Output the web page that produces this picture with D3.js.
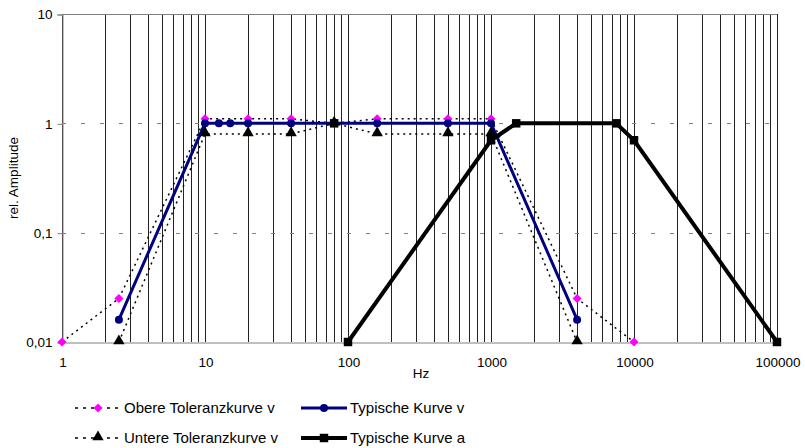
<!DOCTYPE html>
<html>
<head>
<meta charset="utf-8">
<script src="https://cdn.jsdelivr.net/npm/d3@7"></script>
<style>
  html, body { margin: 0; padding: 0; background: #fff; }
  svg text { font-family: "Liberation Sans", Arial, sans-serif; fill: #000; }
</style>
</head>
<body>
<svg id="chart" width="805" height="448"></svg>
<script>
// ---- Data ----
const obereX = [1, 2.5, 10, 20, 40, 80, 160, 500, 1000, 4000, 10000];
const obereY = [0.01, 0.025, 1.1, 1.1, 1.1, 1, 1.1, 1.1, 1.1, 0.025, 0.01];

const untereX = [2.5, 10, 20, 40, 80, 160, 500, 1000, 4000];
const untereY = [0.01, 0.8, 0.8, 0.8, 1, 0.8, 0.8, 0.8, 0.01];

const typVX = [2.5, 10, 12.5, 15, 20, 40, 160, 500, 1000, 4000];
const typVY = [0.016, 1, 1, 1, 1, 1, 1, 1, 1, 0.016];

const typAX = [100, 1000, 1500, 7500, 10000, 100000];
const typAY = [0.01, 0.7, 1, 1, 0.7, 0.01];

const referenzX = [80];
const referenzY = [1];

const xTicks = [1, 10, 100, 1000, 10000, 100000];
const xTickLabels = ["1", "10", "100", "1000", "10000", "100000"];
const yTicks = [0.01, 0.1, 1, 10];
const yTickLabels = ["0,01", "0,1", "1", "10"];

const legendNames = ["Obere Toleranzkurve v", "Typische Kurve v", "Untere Toleranzkurve v", "Typische Kurve a"];

// ---- Layout ----
const svg = d3.select("#chart");
const pL = 62, pR = 777, pT = 14, pB = 342;
const x = d3.scaleLog().domain([1, 100000]).range([pL, pR]);
const y = d3.scaleLog().domain([0.01, 10]).range([pB, pT]);
const cx = v => Math.round(x(v)) + 0.5;
const cy = v => Math.round(y(v)) + 0.5;

// vertical grid lines (minor and major)
const vgrid = [];
for (let e = 0; e < 5; e++) {
  for (let m = 1; m <= 9; m++) vgrid.push(m * Math.pow(10, e));
}
vgrid.push(100000);
svg.append("g").selectAll("line").data(vgrid).join("line")
  .attr("x1", d => cx(d)).attr("x2", d => cx(d))
  .attr("y1", pT).attr("y2", pB)
  .attr("stroke", "#222").attr("stroke-width", 1);

// horizontal grid lines
svg.append("g").selectAll("line").data([0.1, 1]).join("line")
  .attr("x1", pL).attr("x2", pR)
  .attr("y1", d => cy(d)).attr("y2", d => cy(d))
  .attr("stroke", "#808080").attr("stroke-width", 1)
  .attr("stroke-dasharray", "4,15");
svg.append("line")
  .attr("x1", pL).attr("x2", pR)
  .attr("y1", cy(10)).attr("y2", cy(10))
  .attr("stroke", "#808080").attr("stroke-width", 1);

// axes
const yAxis = d3.axisLeft(y).tickValues(yTicks).tickSize(5)
  .tickFormat((d, i) => yTickLabels[i]);
const gy = svg.append("g").attr("transform", `translate(${pL + 0.5},0.5)`).call(yAxis);
gy.select(".domain").attr("stroke", "#808080");
gy.selectAll(".tick line").attr("stroke", "#808080");
gy.selectAll(".tick text").attr("x", -10).attr("font-size", "13.5px")
  .attr("font-family", "Liberation Sans, Arial, sans-serif");

const xAxis = d3.axisBottom(x).tickValues(xTicks).tickSize(0)
  .tickFormat((d, i) => xTickLabels[i]);
const gx = svg.append("g").attr("transform", `translate(0.5,${pB + 0.5})`).call(xAxis);
gx.select(".domain").attr("stroke", "#808080");
gx.selectAll(".tick text").attr("y", 15).attr("font-size", "13.5px")
  .attr("font-family", "Liberation Sans, Arial, sans-serif");

// axis titles
svg.append("text").attr("transform", `translate(18,${(pT + pB) / 2}) rotate(-90)`)
  .attr("text-anchor", "middle").attr("font-size", "13.5px").text("rel. Amplitude");
svg.append("text").attr("x", 421).attr("y", 378)
  .attr("text-anchor", "middle").attr("font-size", "13.5px").text("Hz");

// series
const lineGen = d3.line().x(d => x(d[0])).y(d => y(d[1]));
const zip = (a, b) => a.map((v, i) => [v, b[i]]);

const obere = zip(obereX, obereY);
const untere = zip(untereX, untereY);
const typV = zip(typVX, typVY);
const typA = zip(typAX, typAY);
const ref = zip(referenzX, referenzY);

const diamond = d3.symbol().type(d3.symbolDiamond2).size(52);
const triangle = d3.symbol().type(d3.symbolTriangle).size(56);
const square = d3.symbol().type(d3.symbolSquare).size(72);

// Obere
svg.append("path").datum(obere).attr("d", lineGen)
  .attr("fill", "none").attr("stroke", "#000").attr("stroke-width", 1.5)
  .attr("stroke-dasharray", "2,4");
svg.append("g").selectAll("path").data(obere).join("path")
  .attr("d", diamond).attr("transform", d => `translate(${x(d[0])},${y(d[1])})`)
  .attr("fill", "#ff00ff");

// Typische v
svg.append("path").datum(typV).attr("d", lineGen)
  .attr("fill", "none").attr("stroke", "#000080").attr("stroke-width", 3);
svg.append("g").selectAll("circle").data(typV).join("circle")
  .attr("cx", d => x(d[0])).attr("cy", d => y(d[1])).attr("r", 4)
  .attr("fill", "#000080");

// Untere
svg.append("path").datum(untere).attr("d", lineGen)
  .attr("fill", "none").attr("stroke", "#000").attr("stroke-width", 1.5)
  .attr("stroke-dasharray", "2,4");
svg.append("g").selectAll("path").data(untere).join("path")
  .attr("d", triangle).attr("transform", d => `translate(${x(d[0])},${y(d[1]) - 1})`)
  .attr("fill", "#000");

// Typische a
svg.append("path").datum(typA).attr("d", lineGen)
  .attr("fill", "none").attr("stroke", "#000").attr("stroke-width", 4);
svg.append("g").selectAll("path").data(typA).join("path")
  .attr("d", square).attr("transform", d => `translate(${x(d[0])},${y(d[1])})`)
  .attr("fill", "#000");

// Reference point
svg.append("g").selectAll("path").data(ref).join("path")
  .attr("d", square).attr("transform", d => `translate(${x(d[0])},${y(d[1])})`)
  .attr("fill", "#000");

// ---- Legend ----
const legend = svg.append("g");
const legPos = [[75, 408], [301, 408], [75, 438], [301, 438]];
const legStyles = [
  { stroke: "#000", w: 1.5, dash: "3,5", marker: "diamond", fill: "#ff00ff" },
  { stroke: "#000080", w: 3, dash: null, marker: "circle", fill: "#000080" },
  { stroke: "#000", w: 1.5, dash: "3,5", marker: "triangle", fill: "#000" },
  { stroke: "#000", w: 4, dash: null, marker: "square", fill: "#000" }
];
legendNames.forEach((name, i) => {
  const [lx, ly] = legPos[i];
  const s = legStyles[i];
  const g = legend.append("g");
  g.append("line").attr("x1", lx).attr("x2", lx + 46).attr("y1", ly).attr("y2", ly)
    .attr("stroke", s.stroke).attr("stroke-width", s.w)
    .attr("stroke-dasharray", s.dash);
  const mx = lx + 23;
  if (s.marker === "circle") {
    g.append("circle").attr("cx", mx).attr("cy", ly).attr("r", 4).attr("fill", s.fill);
  } else {
    const sym = s.marker === "diamond" ? diamond : s.marker === "triangle" ? triangle : square;
    g.append("path").attr("d", sym).attr("transform", `translate(${mx},${ly - (s.marker === "triangle" ? 1 : 0)})`)
      .attr("fill", s.fill);
  }
  g.append("text").attr("x", lx + 49).attr("y", ly).attr("dy", "0.36em")
    .attr("font-size", "15px").text(name);
});
</script>
</body>
</html>
